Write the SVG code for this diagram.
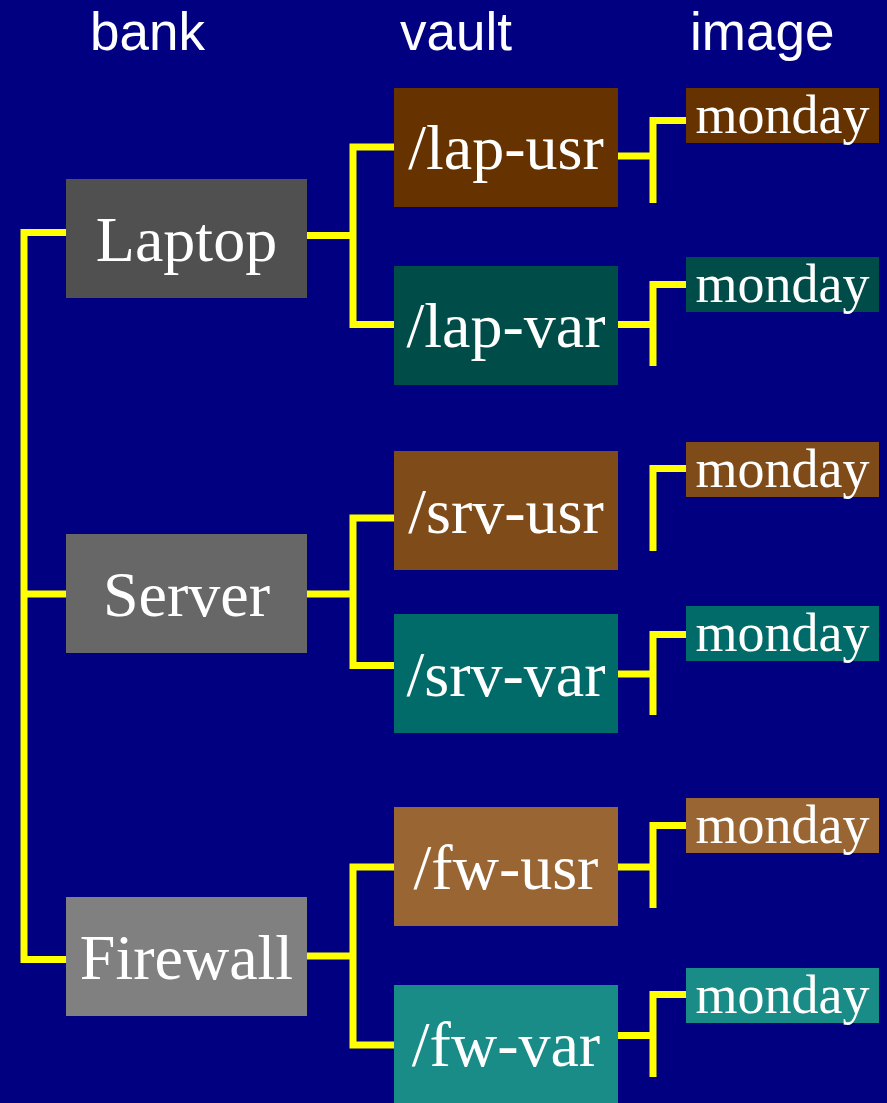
<svg xmlns="http://www.w3.org/2000/svg" width="887" height="1103" viewBox="0 0 887 1103">
<style>
.hdr{font-family:"Liberation Sans",Arial,sans-serif;font-size:53px;fill:#fff}
.bank{font-family:"Liberation Serif","Times New Roman",serif;font-size:64px;fill:#fff;text-anchor:middle}
.vault{font-family:"Liberation Serif","Times New Roman",serif;font-size:64px;fill:#fff;text-anchor:middle}
.img{font-family:"Liberation Serif","Times New Roman",serif;font-size:54px;fill:#fff;text-anchor:middle}
.ln{fill:none;stroke:#ffff00;stroke-width:7;stroke-linecap:butt;stroke-linejoin:miter}
</style>
<rect x="0" y="0" width="887" height="1103" fill="#000080"/>
<g id="headers">
<text class="hdr" x="90" y="50">bank</text>
<text class="hdr" x="400" y="50">vault</text>
<text class="hdr" x="690" y="50">image</text>
</g>
<g id="connectors">
<path class="ln" d="M66,232.5 H24 V959.5 H66"/>
<path class="ln" d="M24,594 H66"/>
<path class="ln" d="M307,235.5 H353"/>
<path class="ln" d="M394,147 H353 V324.5 H394"/>
<path class="ln" d="M307,594 H353"/>
<path class="ln" d="M394,518 H353 V665.5 H394"/>
<path class="ln" d="M307,956 H353"/>
<path class="ln" d="M394,867 H353 V1045 H394"/>
<path class="ln" d="M618,156 H653"/>
<path class="ln" d="M686,120.5 H653 V203"/>
<path class="ln" d="M618,324.5 H653"/>
<path class="ln" d="M686,284.5 H653 V366"/>
<path class="ln" d="M686,468.5 H653 V551"/>
<path class="ln" d="M618,674 H653"/>
<path class="ln" d="M686,634.5 H653 V715"/>
<path class="ln" d="M618,867 H653"/>
<path class="ln" d="M686,825.5 H653 V908"/>
<path class="ln" d="M618,1035.5 H653"/>
<path class="ln" d="M686,994.5 H653 V1077"/>
</g>
<g id="laptop"><rect x="66" y="179" width="241" height="119" fill="#505050"/><text class="bank" x="186.5" y="261">Laptop</text></g>
<g id="server"><rect x="66" y="534" width="241" height="119" fill="#676767"/><text class="bank" x="186.5" y="616">Server</text></g>
<g id="firewall"><rect x="66" y="897" width="241" height="119" fill="#808080"/><text class="bank" x="186.5" y="979">Firewall</text></g>
<g id="lap-usr"><rect x="394" y="88" width="224" height="119" fill="#663300"/><text class="vault" x="506" y="169">/lap-usr</text></g>
<g id="lap-var"><rect x="394" y="266" width="224" height="119" fill="#004C48"/><text class="vault" x="506" y="347">/lap-var</text></g>
<g id="srv-usr"><rect x="394" y="451" width="224" height="119" fill="#7F4C19"/><text class="vault" x="506" y="533">/srv-usr</text></g>
<g id="srv-var"><rect x="394" y="614" width="224" height="119" fill="#006B68"/><text class="vault" x="506" y="696">/srv-var</text></g>
<g id="fw-usr"><rect x="394" y="807" width="224" height="119" fill="#996633"/><text class="vault" x="506" y="889">/fw-usr</text></g>
<g id="fw-var"><rect x="394" y="985" width="224" height="118" fill="#198C88"/><text class="vault" x="506" y="1066">/fw-var</text></g>
<g id="img-lap-usr"><rect x="686" y="88" width="193" height="55" fill="#663300"/><text class="img" x="782.5" y="133">monday</text></g>
<g id="img-lap-var"><rect x="686" y="257" width="193" height="55" fill="#004C48"/><text class="img" x="782.5" y="302">monday</text></g>
<g id="img-srv-usr"><rect x="686" y="442" width="193" height="55" fill="#7F4C19"/><text class="img" x="782.5" y="487">monday</text></g>
<g id="img-srv-var"><rect x="686" y="606" width="193" height="55" fill="#006B68"/><text class="img" x="782.5" y="651">monday</text></g>
<g id="img-fw-usr"><rect x="686" y="798" width="193" height="55" fill="#996633"/><text class="img" x="782.5" y="843">monday</text></g>
<g id="img-fw-var"><rect x="686" y="968" width="193" height="55" fill="#198C88"/><text class="img" x="782.5" y="1013">monday</text></g>
</svg>
